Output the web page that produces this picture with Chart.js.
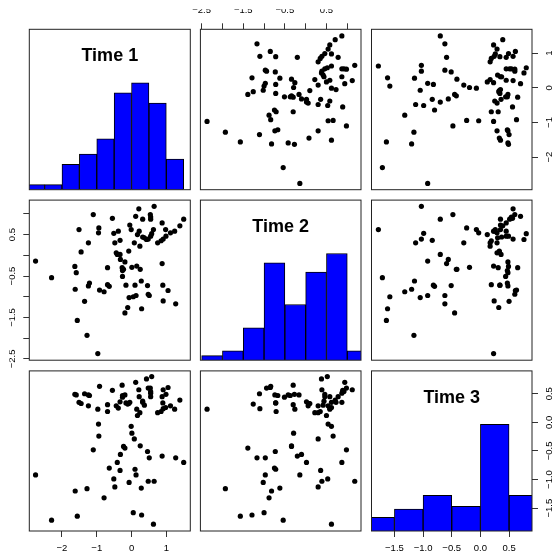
<!DOCTYPE html>
<html>
<head>
<meta charset="utf-8">
<script src="https://cdn.jsdelivr.net/npm/chart.js@4.4.1/dist/chart.umd.min.js"></script>
<style>
  html, body { margin: 0; padding: 0; background: #fff; overflow: hidden; }
  #wrap { position: relative; width: 555px; height: 554px; }
  #wrap canvas { position: absolute; left: 0; top: 0; }
</style>
</head>
<body>
<div id="wrap"></div>
<script>
const varNames = ["Time 1", "Time 2", "Time 3"];

// one value per subject, same order in all three arrays
const time1 = [0.65, 0.21, -1.10, 0.54, 0.55, 0.55, 0.12, 0.32, -0.55, 1.50,
  0.88, -0.05, 1.39, -0.94, -1.51, -0.01, 0.63, 0.98, 0.22, -0.38,
  -0.95, -0.51, 1.24, 1.12, 0.17, 0.58, 0.55, 0.32, 0.37, 0.43,
  0.48, 0.99, 0.91, 0.85, 0.75, -0.33, 0.24, -1.24, -0.48, 0.08,
  -1.45, -0.44, -0.41, -0.33, -0.08, -0.32, -0.19, -2.76, 0.88, -0.27,
  -0.23, -0.26, 0.01, 0.15, 0.25, -0.69, -1.63, -1.59, -2.30, -0.26,
  0.28, -1.21, -1.24, -0.69, -0.64, -0.16, 0.10, 0.46, 0.90, -1.62,
  -0.92, -0.79, 1.05, 0.05, -0.07, 0.13, 0.51, 0.48, -1.35, 0.91,
  1.27, -0.11, 0.29, -0.19, -1.56, -1.28, -0.97];

const time2 = [1.18, 1.12, 0.98, 0.98, 0.92, 0.87, 0.94, 0.87, 0.89, 0.87,
  0.78, 0.73, 0.71, 0.66, 0.62, 0.62, 0.62, 0.62, 0.58, 0.58,
  0.54, 0.53, 0.58, 0.54, 0.50, 0.52, 0.46, 0.44, 0.42, 0.38,
  0.39, 0.46, 0.39, 0.35, 0.30, 0.36, 0.22, 0.30, 0.30, 0.30,
  0.08, 0.06, 0.02, 0.02, 0.10, -0.10, -0.16, -0.14, -0.20, -0.30,
  -0.34, -0.37, -0.29, -0.26, -0.34, -0.30, -0.27, -0.42, -0.54, -0.51,
  -0.62, -0.67, -0.74, -0.71, -0.75, -0.72, -0.72, -0.73, -0.72, -0.82,
  -0.84, -0.88, -0.85, -1.00, -1.02, -0.97, -0.97, -0.94, -1.11, -1.10,
  -1.17, -1.26, -1.29, -1.39, -1.57, -1.93, -2.37];

const time3 = [-1.03, 0.57, -0.48, 0.60, 0.54, 0.51, 0.70, 0.35, 0.56, -0.70,
  0.45, 0.35, 0.39, -0.24, 0.35, -0.07, -1.78, 0.26, 0.45, 0.25,
  -0.03, -0.99, 0.23, 0.29, 0.12, 0.80, 0.45, 0.37, 0.30, 0.76,
  -1.03, 0.49, 0.57, 0.19, 0.17, -0.84, 0.17, 0.29, -1.13, -0.29,
  0.33, 0.29, -0.70, 0.36, 0.33, -0.56, 0.48, -0.92, -0.59, 0.65,
  -0.42, 0.47, -0.19, 0.23, -0.41, 0.31, 0.49, 0.48, -1.71, 0.44,
  -1.15, 0.47, 0.48, 0.19, -0.80, 0.34, -0.82, -0.51, 0.34, -1.20,
  0.63, -1.32, 0.61, -1.58, -1.05, -0.92, -0.62, 0.60, 0.50, 0.24,
  -0.62, 0.32, -1.62, -0.45, -1.64, -1.16, 0.23];

// histograms on the diagonal
const hist1Breaks = [-3, -2.5, -2, -1.5, -1, -0.5, 0, 0.5, 1, 1.5];
const hist1Counts = [1, 1, 5, 7, 10, 19, 21, 17, 6];
const hist2Breaks = [-2.5, -2, -1.5, -1, -0.5, 0, 0.5, 1, 1.5];
const hist2Counts = [1, 2, 7, 21, 12, 19, 23, 2];
const hist3Breaks = [-2, -1.5, -1, -0.5, 0, 0.5, 1];
const hist3Counts = [5, 8, 13, 9, 39, 13];

// axis limits
const time1Range = [-2.94, 1.69];
const time2Range = [-2.53, 1.33];
const time3Range = [-1.90, 0.90];

// ticks and labels
const time1Ticks = [-2, -1, 0, 1];
const time1Labels = ["\u22122", "\u22121", "0", "1"];
const time2Ticks = [-2.5, -2, -1.5, -1, -0.5, 0, 0.5, 1];
const time2Labels = ["\u22122.5", "", "\u22121.5", "", "\u22120.5", "", "0.5", ""];
const time3Ticks = [-1.5, -1, -0.5, 0, 0.5];
const time3Labels = ["\u22121.5", "\u22121.0", "\u22120.5", "0.0", "0.5"];

Chart.defaults.font.family = '"Liberation Sans", Arial, Helvetica, sans-serif';
Chart.defaults.font.size = 9.5;
Chart.defaults.color = "#000";

const vars = [time1, time2, time3];
const ranges = [time1Range, time2Range, time3Range];
const tickVals = [time1Ticks, time2Ticks, time3Ticks];
const tickLabels = [time1Labels, time2Labels, time3Labels];
const hists = [
  { breaks: hist1Breaks, counts: hist1Counts },
  { breaks: hist2Breaks, counts: hist2Counts },
  { breaks: hist3Breaks, counts: hist3Counts },
];

// panel boxes in page pixels
const colX = [[29.3, 190.3], [200.4, 361], [371.5, 532]];
const rowY = [[29.3, 189.7], [200.1, 360.2], [370.9, 531]];

// outer axes, R pairs style: side -> variable index
const axisAt = {
  "0,1": { top: 1 },
  "0,2": { right: 0 },
  "1,0": { left: 1 },
  "2,0": { bottom: 0 },
  "2,2": { bottom: 2, right: 2 },
};
const tickPad = { top: 7.5, bottom: 6, left: 1.2, right: [5.6, 0, 2.1] };

const W = 555, H = 554, AX = 20, TL = 6;

function shownAxis(v, position) {
  const vertical = position === "left" || position === "right";
  let pad = tickPad[position];
  if (position === "right") pad = pad[v];
  return {
    type: "linear",
    position: position,
    min: ranges[v][0],
    max: ranges[v][1],
    offset: false,
    grid: { display: true, drawOnChartArea: false, drawTicks: true, tickLength: TL,
            tickColor: "#333", color: "#333", lineWidth: 1, offset: false },
    border: { display: false },
    ticks: {
      autoSkip: false,
      padding: pad,
      color: "#000",
      minRotation: vertical ? 90 : 0,
      maxRotation: vertical ? 90 : 0,
      crossAlign: vertical ? "center" : "near",
      callback: (val, i) => tickLabels[v][i],
    },
    afterBuildTicks: s => { s.ticks = tickVals[v].map(t => ({ value: t })); },
    afterFit: s => { if (s.isHorizontal()) s.height = AX; else s.width = AX; },
  };
}

function hiddenAxis(min, max, ticks) {
  const sc = { type: "linear", display: false, min: min, max: max, offset: false, grid: { offset: false } };
  if (ticks) sc.afterBuildTicks = s => { s.ticks = ticks.map(t => ({ value: t })); };
  return sc;
}

const framePlugin = {
  id: "frame",
  afterDatasetsDraw(chart, args, opts) {
    const { ctx, chartArea: a } = chart;
    ctx.save();
    ctx.strokeStyle = "#222";
    ctx.lineWidth = 1;
    ctx.strokeRect(a.left, a.top, a.right - a.left, a.bottom - a.top);
    if (opts.label) {
      ctx.fillStyle = "#000";
      ctx.font = 'bold 18px "Liberation Sans", Arial, sans-serif';
      ctx.textAlign = "center";
      ctx.textBaseline = "middle";
      ctx.fillText(opts.label, (a.left + a.right) / 2, a.top + 27);
    }
    ctx.restore();
  }
};

const wrap = document.getElementById("wrap");

for (let r = 0; r < 3; r++) {
  for (let c = 0; c < 3; c++) {
    const cv = document.createElement("canvas");
    cv.width = W;
    cv.height = H;
    wrap.appendChild(cv);

    const sides = axisAt[r + "," + c] || {};
    const padding = {
      left: colX[c][0] - ("left" in sides ? AX : 0),
      right: W - colX[c][1] - ("right" in sides ? AX : 0),
      top: rowY[r][0] - ("top" in sides ? AX : 0),
      bottom: H - rowY[r][1] - ("bottom" in sides ? AX : 0),
    };

    let xScale;
    if ("top" in sides) xScale = shownAxis(sides.top, "top");
    else if ("bottom" in sides) xScale = shownAxis(sides.bottom, "bottom");
    else xScale = hiddenAxis(ranges[c][0], ranges[c][1], r === c ? hists[c].breaks : null);

    let type, datasets, scales;
    if (r === c) {
      const h = hists[c];
      const bars = h.counts.map((n, i) => ({ x: (h.breaks[i] + h.breaks[i + 1]) / 2, y: n }));
      type = "bar";
      datasets = [{
        data: bars,
        backgroundColor: "#0000ff",
        borderColor: "#000",
        borderWidth: 1,
        barPercentage: 1,
        categoryPercentage: 1,
        clip: 0,
      }];
      scales = { x: xScale, y: hiddenAxis(0, Math.max(...h.counts) * 1.5) };
      if ("right" in sides) scales.yv = shownAxis(sides.right, "right");
    } else {
      type = "scatter";
      datasets = [{
        data: vars[c].map((v, i) => ({ x: v, y: vars[r][i] })),
        pointRadius: 2.6,
        pointHoverRadius: 2.6,
        pointBackgroundColor: "#000",
        pointBorderWidth: 0,
      }];
      let yScale;
      if ("left" in sides) yScale = shownAxis(sides.left, "left");
      else if ("right" in sides) yScale = shownAxis(sides.right, "right");
      else yScale = hiddenAxis(ranges[r][0], ranges[r][1]);
      scales = { x: xScale, y: yScale };
    }

    new Chart(cv, {
      type: type,
      data: { datasets: datasets },
      options: {
        responsive: false,
        maintainAspectRatio: false,
        animation: false,
        devicePixelRatio: 1,
        events: [],
        layout: { padding: padding },
        scales: scales,
        plugins: {
          legend: { display: false },
          tooltip: { enabled: false },
          frame: { label: r === c ? varNames[c] : null },
        },
      },
      plugins: [framePlugin],
    });
  }
}
</script>
</body>
</html>
